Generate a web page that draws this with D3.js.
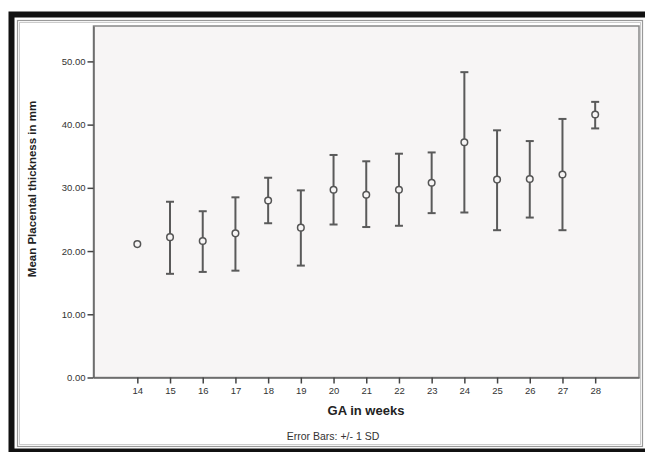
<!DOCTYPE html>
<html>
<head>
<meta charset="utf-8">
<script src="https://cdn.jsdelivr.net/npm/d3@7/dist/d3.min.js"></script>
<style>
  body { margin: 0; background: #fff; }
  text { font-family: "Liberation Sans", Arial, sans-serif; fill: #333; }
  .tick-label { font-size: 9.5px; }
  .axis-title { font-size: 13px; font-weight: bold; fill: #222; }
  .y-title { font-size: 11.5px; font-weight: bold; fill: #222; }
  .note { font-size: 10.5px; fill: #333; }
</style>
</head>
<body>
<div id="graph"></div>
<script>
const graphWidth = 645;
const graphHeight = 452;

const plotLeft = 93.5;
const plotRight = 639;
const plotTop = 26;
const plotBottom = 377.5;

const weeks = [14, 15, 16, 17, 18, 19, 20, 21, 22, 23, 24, 25, 26, 27, 28];
const means = [21.1, 22.2, 21.6, 22.8, 28.0, 23.7, 29.7, 28.9, 29.7, 30.8, 37.2, 31.3, 31.4, 32.1, 41.6];
const upper = [null, 27.8, 26.3, 28.5, 31.6, 29.6, 35.2, 34.2, 35.4, 35.6, 48.3, 39.1, 37.4, 40.9, 43.6];
const lower = [null, 16.4, 16.7, 16.9, 24.4, 17.7, 24.2, 23.8, 24.0, 26.0, 26.1, 23.3, 25.3, 23.3, 39.4];
const yTicks = [0, 10, 20, 30, 40, 50];

const points = weeks.map((w, i) => ({week: w, mean: means[i], hi: upper[i], lo: lower[i]}));

const x = d3.scaleLinear().domain([14 - 1.34, 28 + 1.34]).range([plotLeft, plotRight]);
const y = d3.scaleLinear().domain([0, 55.6]).range([plotBottom, plotTop]);

function makeGraph() {
  const svg = d3.select('#graph').append('svg')
    .attr('width', graphWidth).attr('height', graphHeight);

  makeFrame(svg);
  makePlotArea(svg);
  makeAxes(svg);
  makeErrorBars(svg, points.filter(d => d.hi !== null));
  makeMeans(svg, points);
  makeTitles(svg);
}

function makeFrame(svg) {
  svg.append('rect')
    .attr('x', 11.5).attr('y', 14.5).attr('width', 700).attr('height', 437)
    .attr('fill', 'none').attr('stroke', '#111').attr('stroke-width', 6);
  svg.append('rect')
    .attr('x', 17.5).attr('y', 20.5).attr('width', 625).attr('height', 426)
    .attr('fill', 'none').attr('stroke', '#999').attr('stroke-width', 1.2);
  svg.append('rect')
    .attr('x', 19.5).attr('y', 22.5).attr('width', 621).attr('height', 422)
    .attr('fill', 'none').attr('stroke', '#ccc').attr('stroke-width', 1);
}

function makePlotArea(svg) {
  svg.append('rect')
    .attr('x', plotLeft).attr('y', plotTop)
    .attr('width', plotRight - plotLeft).attr('height', plotBottom - plotTop)
    .attr('fill', '#f7f5f5').attr('stroke', '#888').attr('stroke-width', 1.5);
}

function makeAxes(svg) {
  const xAxis = svg.append('g')
    .attr('transform', translate(0, plotBottom))
    .call(d3.axisBottom(x).tickValues(weeks).tickSizeInner(6).tickSizeOuter(0)
      .tickPadding(4).tickFormat(d3.format('d')));
  const yAxis = svg.append('g')
    .attr('transform', translate(plotLeft, 0))
    .call(d3.axisLeft(y).tickValues(yTicks).tickSizeInner(6).tickSizeOuter(0)
      .tickPadding(2).tickFormat(d3.format('.2f')));

  [xAxis, yAxis].forEach(g => {
    g.select('.domain').attr('stroke', '#666').attr('stroke-width', 1.5);
    g.selectAll('.tick line').attr('stroke', '#444').attr('stroke-width', 1.5);
    g.selectAll('.tick text')
      .attr('class', 'tick-label')
      .style('font-family', '"Liberation Sans", Arial, sans-serif')
      .attr('fill', '#444');
  });
}

function makeErrorBars(svg, data) {
  const bars = construct(svg.append('g'), data, 'g')
    .attr('stroke', '#5a5a5a').attr('stroke-width', 2);
  bars.append('line')
    .attr('x1', d => x(d.week)).attr('x2', d => x(d.week))
    .attr('y1', d => y(d.hi)).attr('y2', d => y(d.lo));
  bars.append('line')
    .attr('x1', d => x(d.week) - 4).attr('x2', d => x(d.week) + 4)
    .attr('y1', d => y(d.hi)).attr('y2', d => y(d.hi));
  bars.append('line')
    .attr('x1', d => x(d.week) - 4).attr('x2', d => x(d.week) + 4)
    .attr('y1', d => y(d.lo)).attr('y2', d => y(d.lo));
}

function makeMeans(svg, data) {
  construct(svg.append('g'), data, 'circle')
    .attr('cx', d => x(d.week)).attr('cy', d => y(d.mean))
    .attr('r', 3.3)
    .attr('fill', '#f7f5f5').attr('stroke', '#555').attr('stroke-width', 1.5);
}

function makeTitles(svg) {
  svg.append('text')
    .attr('class', 'axis-title')
    .attr('text-anchor', 'middle')
    .attr('x', 366).attr('y', 415)
    .text('GA in weeks');
  svg.append('text')
    .attr('class', 'note')
    .attr('text-anchor', 'middle')
    .attr('x', 333).attr('y', 440)
    .text('Error Bars: +/- 1 SD');
  svg.append('text')
    .attr('class', 'y-title')
    .attr('text-anchor', 'middle')
    .attr('transform', translate(36, 189) + ' rotate(-90)')
    .text('Mean Placental thickness in mm');
}

// Utilities

function construct(sel, data, tag) {
  return sel.selectAll(tag).data(data).enter().append(tag);
}

function translate(x, y) {
  return 'translate(' + x + ',' + y + ')';
}

makeGraph();
</script>
</body>
</html>
